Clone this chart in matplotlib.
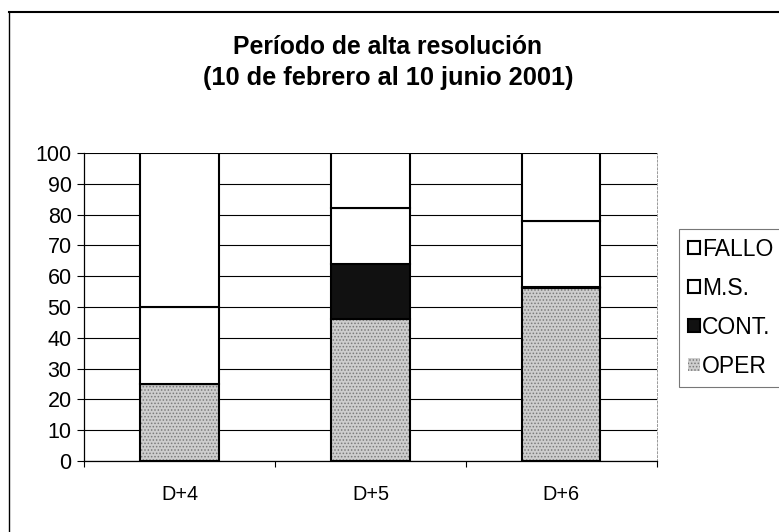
import matplotlib.pyplot as plt
import numpy as np
from matplotlib.lines import Line2D

plt.rcParams['font.family'] = ['Liberation Sans', 'DejaVu Sans']
plt.rcParams['hatch.linewidth'] = 0.7

# Porcentajes por horizonte de prediccion
dias = ['D+4', 'D+5', 'D+6']
oper = [25, 46, 56]
cont = [0, 18, 0.5]
ms = [25, 18, 21.5]
fallo = [50, 18, 22]

fig = plt.figure(figsize=(7.79, 5.32), dpi=100)
ax = fig.add_axes([0.108, 0.1335, 0.735, 0.579])

x = np.arange(1, len(dias) + 1)
w = 0.41

ax.set_axisbelow(True)
ax.yaxis.grid(True, color='black', linewidth=0.8)

base = np.zeros(len(dias))
b_oper = ax.bar(x, oper, w, bottom=base, facecolor='#cdcdcd', edgecolor='#7a7a7a',
                hatch='.....', linewidth=0, label='OPER')
ax.bar(x, oper, w, bottom=base, facecolor='none', edgecolor='black', linewidth=1.5)
base += oper
b_cont = ax.bar(x, cont, w, bottom=base, facecolor='#111111', edgecolor='black',
                linewidth=1.5, label='CONT.')
base += cont
b_ms = ax.bar(x, ms, w, bottom=base, facecolor='white', edgecolor='black',
              linewidth=1.5, label='M.S.')
base += ms
b_fallo = ax.bar(x, fallo, w, bottom=base, facecolor='white', edgecolor='black',
                 linewidth=1.5, label='FALLO')

ax.set_xlim(0.5, 3.5)
ax.set_ylim(0, 100)
ax.set_yticks(range(0, 101, 10))
ax.set_xticks(x)
ax.set_xticklabels(dias, fontsize=14.3)
ax.set_xticks([0.5, 1.5, 2.5, 3.5], minor=True)
ax.tick_params(axis='x', which='major', length=0, pad=17)
ax.tick_params(axis='x', which='minor', length=4, width=0.8, direction='out')
ax.tick_params(axis='y', labelsize=15.5, length=5, width=0.8, pad=4)

ax.spines['top'].set_visible(False)
ax.spines['right'].set_color('#999999')
ax.spines['right'].set_linestyle((0, (2, 2)))
ax.spines['right'].set_linewidth(0.7)
ax.spines['left'].set_linewidth(0.9)
ax.spines['bottom'].set_linewidth(0.9)

fig.text(0.498, 0.912, 'Período de alta resolución', ha='center', va='center',
         fontsize=17.8, fontweight='bold')
fig.text(0.498, 0.853, '(10 de febrero al 10 junio 2001)', ha='center', va='center',
         fontsize=18.3, fontweight='bold')

leg = ax.legend([b_fallo, b_ms, b_cont, b_oper], ['FALLO', 'M.S.', 'CONT.', 'OPER'],
                loc='upper left', bbox_to_anchor=(0.872, 0.570), bbox_transform=fig.transFigure,
                fontsize=16.5, frameon=True, fancybox=False, borderpad=0.4,
                handlelength=0.5, handleheight=0.5, handletextpad=0.1, labelspacing=0.7,
                borderaxespad=0)
leg.get_frame().set_edgecolor('#555555')
leg.get_frame().set_linewidth(0.8)

# marco del grafico (borde superior e izquierdo)
fig.add_artist(Line2D([0.011, 1.0], [0.977, 0.977], transform=fig.transFigure,
                      color='black', linewidth=1.5))
fig.add_artist(Line2D([0.011, 0.011], [0.0, 0.977], transform=fig.transFigure,
                      color='black', linewidth=1.0))

fig.savefig('out.png', dpi=100)
